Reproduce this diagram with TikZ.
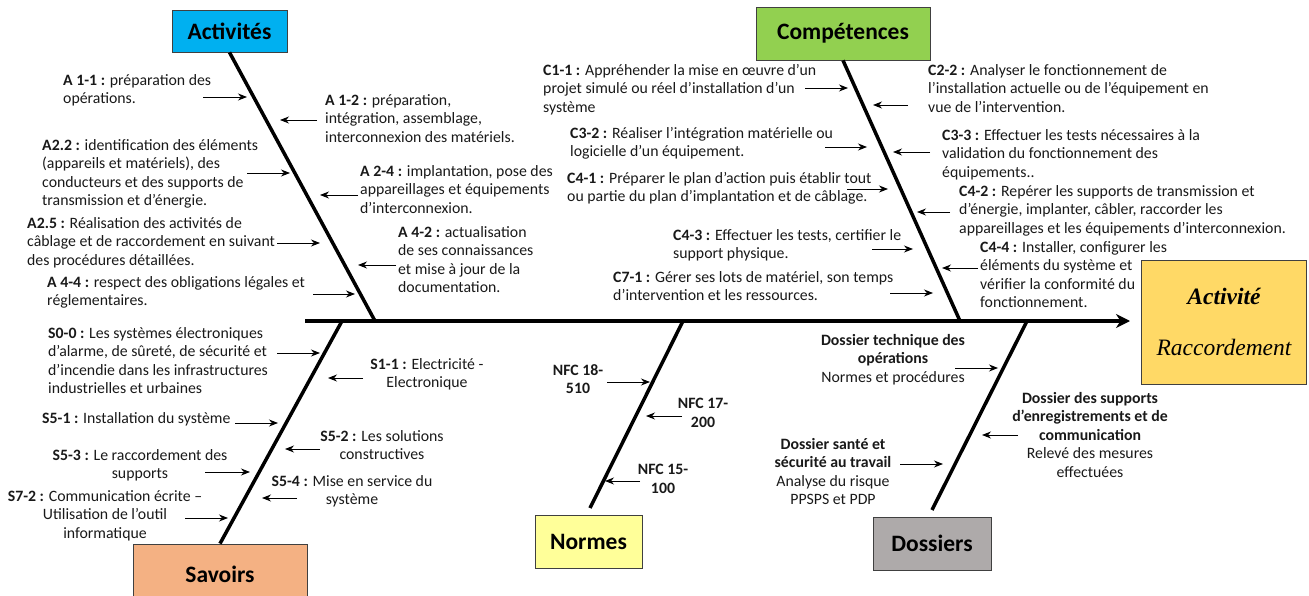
\documentclass[tikz,border=0pt]{standalone}
\usepackage{fontspec}
\setmainfont{Carlito}
\newfontfamily\timesfont{Liberation Serif}
\usetikzlibrary{arrows.meta,calc}
\definecolor{actblue}{HTML}{00B0F0}
\definecolor{compgreen}{HTML}{92D050}
\definecolor{savorange}{HTML}{F4B183}
\definecolor{normyellow}{HTML}{FFFF99}
\definecolor{dossgray}{HTML}{AEAAAA}
\definecolor{effgold}{HTML}{FFD966}
\tikzset{
  category/.style = {shape=rectangle, draw=black!75, line width=0.8pt,
                     inner sep=0pt, font=\fontsize{23.5}{26}\selectfont\bfseries},
  effect/.style   = {category, align=center,
                     font=\fontsize{23.5}{51}\selectfont\timesfont\itshape},
  cause/.style    = {inner sep=0pt, text=black!90, align=left, anchor=north west,
                     font=\fontsize{15.8}{18.5}\selectfont},
  causec/.style   = {cause, align=center, anchor=north},
  bone/.style     = {line width=3.5pt},
  spine/.style    = {line width=3.5pt, -{Stealth[length=14pt,width=14pt]}},
  pin/.style      = {line width=0.9pt, -{Stealth[length=9pt,width=7pt]}}
}

\begin{document}
\begin{tikzpicture}[x=1pt,y=-1pt]
\useasboundingbox (0,0) rectangle (1309,596);

% categories and effect
\node [category, fill=actblue, minimum width=115pt, minimum height=42pt] (act) at (229.5,31) {Activités};
\node [category, fill=compgreen, minimum width=174pt, minimum height=53pt] (comp) at (843,33.5) {Compétences};
\node [category, fill=savorange, minimum width=174pt, minimum height=60pt] (sav) at (220,574) {Savoirs};
\node [category, fill=normyellow, minimum width=107pt, minimum height=53pt] (norm) at (588.5,541.5) {Normes};
\node [category, fill=dossgray, minimum width=118pt, minimum height=53pt] (doss) at (932,543.5) {Dossiers};
\node [effect, fill=effgold, minimum width=165pt, minimum height=124pt] (eff) at (1224,322)
  {\bfseries Activité\\Raccordement};

% spine and bones
\coordinate (tail) at (305,321);
\coordinate (head) at (1130,321);
\coordinate (abone) at (375,321);
\coordinate (cbone) at (960,321);
\coordinate (sbone) at (342,321);
\coordinate (nbone) at (683,321);
\coordinate (nbot) at (590,508);
\coordinate (dbone) at (1027,321);
\coordinate (dbot) at (932,510);
\draw [spine] (tail) -- (head);
\draw [bone] (act.south) -- (abone);
\draw [bone] (comp.south) -- (cbone);
\draw [bone] (sav.north) -- (sbone);
\draw [bone] (nbot) -- (nbone);
\draw [bone] (dbot) -- (dbone);

% Activites
\node [cause] (a11) at (63,74) {\textbf{A 1-1 :} préparation des\\opérations.};
\node [cause] (a22) at (42,139) {\textbf{A2.2 :} identification des éléments\\(appareils et matériels), des\\conducteurs et des supports de\\transmission et d’énergie.};
\node [cause] (a25) at (27,217) {\textbf{A2.5 :} Réalisation des activités de\\câblage et de raccordement en suivant\\des procédures détaillées.};
\node [cause] (a44) at (47,276) {\textbf{A 4-4 :} respect des obligations légales et\\réglementaires.};
\node [cause] (a12) at (325,94) {\textbf{A 1-2 :} préparation,\\intégration, assemblage,\\interconnexion des matériels.};
\node [cause] (a24) at (360,165) {\textbf{A 2-4 :} implantation, pose des\\appareillages et équipements\\d'interconnexion.};
\node [cause] (a42) at (398,226) {\textbf{A 4-2 :} actualisation\\de ses connaissances\\et mise à jour de la\\documentation.};

% Competences
\node [cause] (c11) at (543,64) {\textbf{C1-1 :} Appréhender la mise en œuvre d’un\\projet simulé ou réel d’installation d’un\\système};
\node [cause] (c32) at (570,127) {\textbf{C3-2 :} Réaliser l'intégration matérielle ou\\logicielle d'un équipement.};
\node [cause] (c41) at (567,172) {\textbf{C4-1 :} Préparer le plan d'action puis établir tout\\ou partie du plan d'implantation et de câblage.};
\node [cause] (c43) at (673,229) {\textbf{C4-3 :} Effectuer les tests, certifier le\\support physique.};
\node [cause] (c71) at (613,271) {\textbf{C7-1 :} Gérer ses lots de matériel, son temps\\d'intervention et les ressources.};
\node [cause] (c22) at (928,64) {\textbf{C2-2 :} Analyser le fonctionnement de\\l'installation actuelle ou de l'équipement en\\vue de l'intervention.};
\node [cause] (c33) at (942,129) {\textbf{C3-3 :} Effectuer les tests nécessaires à la\\validation du fonctionnement des\\équipements..};
\node [cause] (c42) at (959,185) {\textbf{C4-2 :} Repérer les supports de transmission et\\d'énergie, implanter, câbler, raccorder les\\appareillages et les équipements d'interconnexion.};
\node [cause] (c44) at (980,241) {\textbf{C4-4 :} Installer, configurer les\\éléments du système et\\vérifier la conformité du\\fonctionnement.};

% Savoirs
\node [cause] (s00) at (48,327) {\textbf{S0-0 :} Les systèmes électroniques\\d'alarme, de sûreté, de sécurité et\\d'incendie dans les infrastructures\\industrielles et urbaines};
\node [cause] (s51) at (42,412) {\textbf{S5-1 :} Installation du système};
\node [causec] (s53) at (140,449) {\textbf{S5-3 :} Le raccordement des\\supports};
\node [causec] (s72) at (105,490) {\textbf{S7-2 :} Communication écrite –\\Utilisation de l’outil\\informatique};
\node [causec] (s11) at (427,358) {\textbf{S1-1 :} Electricité -\\Electronique};
\node [causec] (s52) at (382,430) {\textbf{S5-2 :} Les solutions\\constructives};
\node [causec] (s54) at (352,475) {\textbf{S5-4 :} Mise en service du\\système};

% Normes
\node [causec, font=\fontsize{15.8}{18.5}\selectfont\bfseries] (n1) at (578,364) {NFC 18-\\510};
\node [causec, font=\fontsize{15.8}{18.5}\selectfont\bfseries] (n2) at (703,398) {NFC 17-\\200};
\node [causec, font=\fontsize{15.8}{18.5}\selectfont\bfseries] (n3) at (663,464) {NFC 15-\\100};

% Dossiers
\node [causec] (d1) at (893,334) {\textbf{Dossier technique des}\\\textbf{opérations}\\Normes et procédures};
\node [causec] (d2) at (1090,392) {\textbf{Dossier des supports}\\\textbf{d’enregistrements et de}\\\textbf{communication}\\Relevé des mesures\\effectuées};
\node [causec] (d3) at (833,438) {\textbf{Dossier santé et}\\\textbf{sécurité au travail}\\Analyse du risque\\PPSPS et PDP};

% small arrows towards the bones
\foreach \n/\y/\xa/\xb in {a11/97/203/247, a22/173/247/290, a25/243/277/320,
    a44/294/313/355, a12/120/317/280, a24/195/358/320, a42/265/396/358,
    c11/88/805/848, c32/147/825/867, c41/189/847/888, c43/249/872/913,
    c71/293/890/933, c22/105/908/873, c33/152/930/893, c42/212/950/917,
    c44/268/978/942,
    s00/353/277/320, s51/423/235/278, s53/472/205/250, s72/518/185/228,
    s11/378/363/328, s52/449/320/285, s54/498/297/262,
    n1/382/607/650, n2/416/682/646, n3/481/640/605,
    d1/368/955/998, d2/435/1018/982, d3/464/900/943}
{
  \coordinate (\n-from) at (\xa,\y);
  \coordinate (\n-to) at (\xb,\y);
  \draw [pin] (\n-from) -- (\n-to);
}
\end{tikzpicture}
\end{document}
